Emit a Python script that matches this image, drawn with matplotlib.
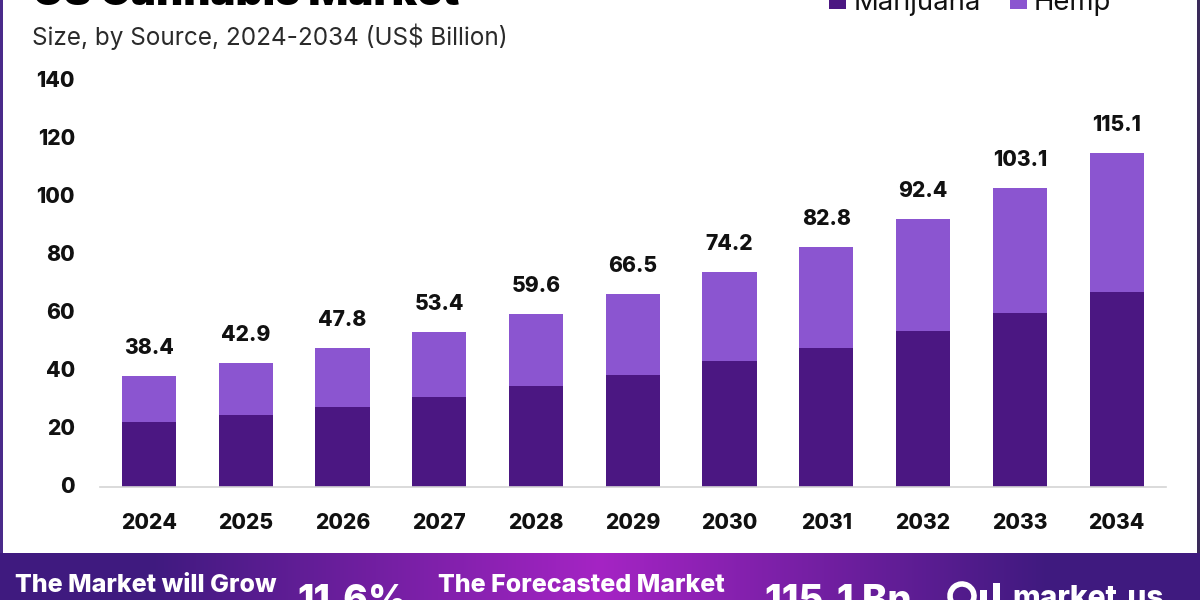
import numpy as np
import matplotlib
matplotlib.use("Agg")
import matplotlib.pyplot as plt
from matplotlib.patches import Rectangle, Arc

years = ["2024","2025","2026","2027","2028","2029","2030","2031","2032","2033","2034"]
totals = [38.4,42.9,47.8,53.4,59.6,66.5,74.2,82.8,92.4,103.1,115.1]
marijuana = [22.4,24.8,27.6,31.0,34.8,38.6,43.4,47.9,53.8,60.0,67.2]
hemp = [round(t-m,1) for t,m in zip(totals,marijuana)]
yticks = [0,20,40,60,80,100,120,140]

C_DARK = "#4b1782"
C_LIGHT = "#8b55d0"
FONT = ["Inter","DejaVu Sans"]
plt.rcParams["font.family"] = FONT

W,H = 1200,600
fig = plt.figure(figsize=(12,6),dpi=100,facecolor="white")
def axpx(l,t,r,b,**k):
    return fig.add_axes([l/W,1-b/H,(r-l)/W,(b-t)/H],**k)

ax = axpx(100,81,1166,487)
x = np.arange(len(years))
ax.bar(x,marijuana,0.56,color=C_DARK,label="Marijuana")
ax.bar(x,hemp,0.56,bottom=marijuana,color=C_LIGHT,label="Hemp")
ax.set_xlim(-0.506,10.51)
ax.set_ylim(0,140)
for s in ["top","left","right"]:
    ax.spines[s].set_visible(False)
ax.spines["bottom"].set_color("#d4d4d4")
ax.spines["bottom"].set_linewidth(1.2)
ax.set_xticks(x,years,fontsize=15.2,fontweight=800,color="#111111")
ax.set_yticks(yticks,[str(v) for v in yticks],fontsize=15.2,fontweight=800,color="#111111")
ax.tick_params(length=0)
ax.tick_params(axis="x",pad=18.5)
ax.tick_params(axis="y",pad=18)
for lab in ax.get_yticklabels():
    lab.set_va("center")
for xi,t in zip(x,totals):
    ax.annotate(f"{t}",(xi,t),xytext=(0,18),textcoords="offset pixels",ha="center",va="bottom",
                fontsize=15.2,fontweight=800,color="#111111")

# page overlay
ov = fig.add_axes([0,0,1,1],zorder=5)
ov.set_xlim(0,W); ov.set_ylim(H,0); ov.axis("off"); ov.patch.set_alpha(0)
ov.add_patch(Rectangle((0,0),3,553,color="#4a2a8a",lw=0))
ov.add_patch(Rectangle((1197,0),3,553,color="#3a2a5a",lw=0))
ov.text(33,5,"US Cannabis Market",fontsize=30.2,fontweight="black",color="black",ha="left",va="baseline",clip_on=False)
ov.text(32,37,"Size, by Source, 2024-2034 (US$ Billion)",fontsize=17.5,color="#2a2a2a",ha="left",va="center")
# legend
ov.add_patch(Rectangle((829,-5),17,14,color=C_DARK,lw=0))
ov.text(854,10,"Marijuana",fontsize=19.8,color="#111111",ha="left",va="baseline")
ov.add_patch(Rectangle((1010,-5),17,14,color=C_LIGHT,lw=0))
ov.text(1034,10,"Hemp",fontsize=19.8,color="#111111",ha="left",va="baseline")

# footer band
bn = axpx(0,553,1200,600,zorder=4)
edge = np.array([0x3f,0x1a,0x7f])/255; mid = np.array([0xa5,0x24,0xc4])/255
t = np.abs(np.linspace(-1,1,600))
t = np.clip(t/0.75,0,1)[None,:,None]
grad = mid*(1-t)+edge*t
bn.imshow(grad,aspect="auto",extent=(0,W,H,553))
bn.set_xlim(0,W); bn.set_ylim(H,553); bn.axis("off")
for tx,xp,yp,fs in [("The Market will Grow",15,592,18),
                    ("The Forecasted Market",438,592,18),
                    ("11.6%",297,612,27),
                    ("115.1 Bn",765,612,27.5),
                    ("market.us",1012,607,21.6)]:
    bn.text(xp,yp,tx,fontsize=fs,fontweight=800,color="white",ha="left",va="baseline",clip_on=True)
bn.add_patch(Arc((962,596),24,24,theta1=130,theta2=400,ec="white",lw=4))
bn.add_patch(Rectangle((980,590),7,14,color="white",lw=0))
bn.add_patch(Rectangle((993,583),7,20,color="white",lw=0))
fig.savefig("out.png",dpi=100)
